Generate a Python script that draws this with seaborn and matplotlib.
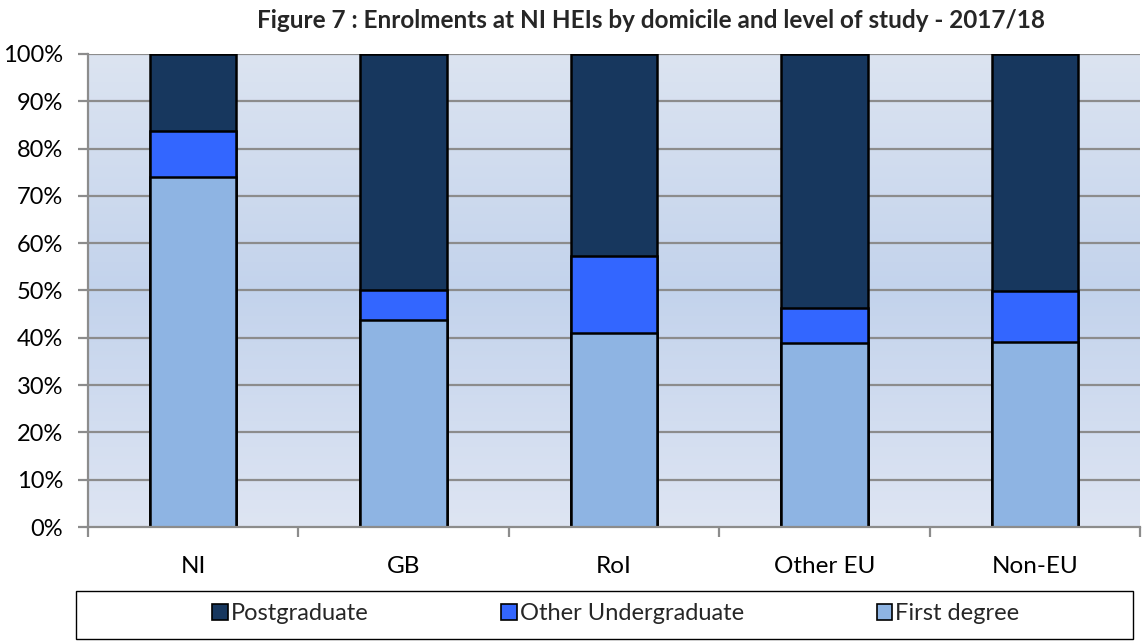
import numpy as np
import pandas as pd
import matplotlib
matplotlib.use("Agg")
import matplotlib.pyplot as plt
import seaborn as sns
from matplotlib.colors import LinearSegmentedColormap
from matplotlib.patches import Patch, Rectangle

# ---- data (percent) ----
domiciles = ["NI", "GB", "RoI", "Other EU", "Non-EU"]
first_degree = [73.9, 43.7, 41.1, 38.8, 39.1]
other_ug = [9.9, 6.3, 16.2, 7.5, 10.7]
postgraduate = [16.2, 50.0, 42.7, 53.7, 50.2]
y_ticks = [0, 10, 20, 30, 40, 50, 60, 70, 80, 90, 100]
title = "Figure 7 : Enrolments at NI HEIs by domicile and level of study - 2017/18"

col_pg = "#17375E"
col_oug = "#3366FF"
col_fd = "#8EB4E3"

sns.set_theme(style="white")
plt.rcParams["font.family"] = ["Lato", "DejaVu Sans"]

df = pd.DataFrame({"domicile": domiciles,
                   "fd": first_degree, "oug": other_ug, "pg": postgraduate})
df["c1"] = df["fd"]
df["c2"] = df["fd"] + df["oug"]
df["c3"] = df["fd"] + df["oug"] + df["pg"]

fig = plt.figure(figsize=(11.42, 6.41), dpi=100)
ax = fig.add_axes([88/1142, 1 - 527/641, (1140 - 88)/1142, (527 - 54)/641])

# gradient background
cmap = LinearSegmentedColormap.from_list(
    "bg", [(0.0, "#DEE5F3"), (0.5, "#C3D3EC"), (1.0, "#DCE4F1")])
grad = np.linspace(0, 1, 256).reshape(-1, 1)
ax.imshow(grad, cmap=cmap, origin="lower", aspect="auto",
          extent=(-0.5, 4.5, 0, 100), zorder=0)

for lv in y_ticks[1:]:
    ax.axhline(lv, color="#8C8C8C", lw=1.6, zorder=1)

bw = 0.41
for col, color in [("c3", col_pg), ("c2", col_oug), ("c1", col_fd)]:
    sns.barplot(data=df, x="domicile", y=col, color=color, width=bw,
                edgecolor="black", linewidth=1.8, saturation=1, ax=ax, zorder=2)

ax.set_xlim(-0.5, 4.5)
ax.set_ylim(0, 100)
ax.set_xlabel("")
ax.set_ylabel("")
ax.set_yticks(y_ticks)
ax.set_yticklabels([f"{v}%" for v in y_ticks], fontsize=17, color="black")
ax.set_xticks(range(len(domiciles)))
ax.set_xticklabels(domiciles, fontsize=17.5, color="black")
ax.set_xticks(np.arange(-0.5, 5.0, 1.0), minor=True)
ax.tick_params(axis="x", which="major", length=0, pad=21)
ax.tick_params(axis="x", which="minor", length=7, width=1.6, color="#8C8C8C", direction="out")
ax.tick_params(axis="y", which="major", length=7, width=1.6, color="#8C8C8C", direction="out", pad=11)
ax.yaxis.set_ticks_position("left")
ax.xaxis.set_ticks_position("bottom")
ax.grid(False)

for s in ["top", "right"]:
    ax.spines[s].set_visible(False)
for s in ["left", "bottom"]:
    ax.spines[s].set_color("#8C8C8C")
    ax.spines[s].set_linewidth(1.6)

fig.text(651/1142, 1 - 21/641, title, ha="center", va="center",
         fontsize=17.5, fontweight="bold")

# legend frame
fig.patches.append(Rectangle((76/1142, 1 - 639/641), (1133 - 76)/1142, (639 - 591)/641,
                             transform=fig.transFigure, facecolor="white",
                             edgecolor="black", lw=1.0, zorder=0))

handles = [Patch(facecolor=col_pg, edgecolor="black", lw=1.2, label="Postgraduate"),
           Patch(facecolor=col_oug, edgecolor="black", lw=1.2, label="Other Undergraduate"),
           Patch(facecolor=col_fd, edgecolor="black", lw=1.2, label="First degree")]
leg = fig.legend(handles=handles, ncol=3, loc="center",
                 bbox_to_anchor=(616/1142, 1 - 614/641),
                 frameon=False, fontsize=17,
                 handlelength=0.65, handleheight=0.65, handletextpad=0.15,
                 borderaxespad=0, borderpad=0, columnspacing=5.6)

fig.savefig("out.png", dpi=100)
